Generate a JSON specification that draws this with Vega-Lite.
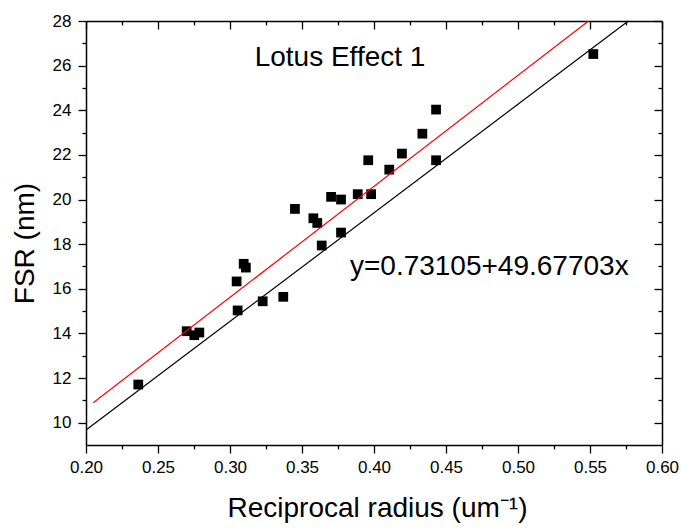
{
  "$schema": "https://vega.github.io/schema/vega-lite/v6.json",
  "width": 576,
  "height": 424,
  "autosize": {"type": "none"},
  "padding": {"left": 86, "top": 21, "right": 19, "bottom": 84},
  "config": {
    "view": {"stroke": null},
    "font": "Liberation Sans",
    "axis": {
      "grid": false,
      "domainColor": "black",
      "tickColor": "black",
      "labelColor": "black",
      "titleColor": "black",
      "domainWidth": 1.5,
      "tickWidth": 1.3,
      "labelFont": "Liberation Sans",
      "titleFont": "Liberation Sans",
      "titleFontWeight": "normal"
    }
  },
  "datasets": {
    "points": [
      {"r": 0.2363, "fsr": 11.71}, {"r": 0.2699, "fsr": 14.10}, {"r": 0.2752, "fsr": 13.92},
      {"r": 0.2787, "fsr": 14.04}, {"r": 0.3053, "fsr": 15.03}, {"r": 0.3046, "fsr": 16.33},
      {"r": 0.3095, "fsr": 17.12}, {"r": 0.3110, "fsr": 16.95}, {"r": 0.3227, "fsr": 15.44},
      {"r": 0.3370, "fsr": 15.64}, {"r": 0.3451, "fsr": 19.58}, {"r": 0.3579, "fsr": 19.16},
      {"r": 0.3606, "fsr": 18.95}, {"r": 0.3637, "fsr": 17.94}, {"r": 0.3702, "fsr": 20.12},
      {"r": 0.3771, "fsr": 20.00}, {"r": 0.3771, "fsr": 18.52}, {"r": 0.3887, "fsr": 20.24},
      {"r": 0.3980, "fsr": 20.24}, {"r": 0.3960, "fsr": 21.76}, {"r": 0.4106, "fsr": 21.34},
      {"r": 0.4194, "fsr": 22.06}, {"r": 0.4336, "fsr": 22.95}, {"r": 0.4431, "fsr": 24.03},
      {"r": 0.4431, "fsr": 21.76}, {"r": 0.5523, "fsr": 26.52}
    ],
    "redline": [{"r": 0.205, "fsr": 10.89}, {"r": 0.549, "fsr": 28.0}],
    "blackline": [{"r": 0.2, "fsr": 9.67}, {"r": 0.5766, "fsr": 28.0}],
    "title1": [{"r": 0.3764, "fsr": 25.97, "t": "Lotus Effect 1"}],
    "eq": [{"r": 0.3833, "fsr": 16.64, "t": "y=0.73105+49.67703x"}]
  },
  "layer": [
    {
      "data": {"name": "points"},
      "mark": {"type": "square", "size": 95, "color": "black", "opacity": 1},
      "encoding": {
        "x": {
          "field": "r", "type": "quantitative",
          "scale": {"domain": [0.2, 0.6], "nice": false, "zero": false},
          "axis": {
            "orient": "bottom",
            "values": [0.2, 0.25, 0.3, 0.35, 0.4, 0.45, 0.5, 0.55, 0.6],
            "format": ".2f", "labelFontSize": 17, "tickSize": 8, "labelPadding": 6,
            "labelFlush": false, "labelOverlap": false,
            "title": "Reciprocal radius (um⁻¹)", "titleFontSize": 28,
            "titleX": 291, "titleY": 71, "titleAlign": "center", "titleBaseline": "alphabetic"
          }
        },
        "y": {
          "field": "fsr", "type": "quantitative",
          "scale": {"domain": [9, 28], "nice": false, "zero": false},
          "axis": {
            "orient": "left",
            "values": [10, 12, 14, 16, 18, 20, 22, 24, 26, 28],
            "format": "d", "labelFontSize": 17, "tickSize": 8, "labelPadding": 7,
            "labelFlush": false, "labelOverlap": false,
            "title": "FSR (nm)", "titleFontSize": 28, "titleAngle": -90,
            "titleX": -52.5, "titleY": 222, "titleAlign": "center", "titleBaseline": "alphabetic"
          }
        }
      }
    },
    {
      "data": {"name": "redline"},
      "mark": {"type": "line", "color": "#ff0000", "strokeWidth": 1.2},
      "encoding": {
        "x": {
          "field": "r", "type": "quantitative",
          "scale": {"domain": [0.2, 0.6], "nice": false, "zero": false},
          "axis": {
            "orient": "bottom",
            "values": [0.225, 0.275, 0.325, 0.375, 0.425, 0.475, 0.525, 0.575],
            "labels": false, "domain": false, "tickSize": 4, "title": null
          }
        },
        "y": {
          "field": "fsr", "type": "quantitative",
          "scale": {"domain": [9, 28], "nice": false, "zero": false},
          "axis": {
            "orient": "left",
            "values": [11, 13, 15, 17, 19, 21, 23, 25, 27],
            "labels": false, "domain": false, "tickSize": 4, "title": null
          }
        }
      }
    },
    {
      "data": {"name": "blackline"},
      "mark": {"type": "line", "color": "black", "strokeWidth": 1.2},
      "encoding": {
        "x": {
          "field": "r", "type": "quantitative",
          "scale": {"domain": [0.2, 0.6], "nice": false, "zero": false},
          "axis": {
            "orient": "top",
            "values": [0.2, 0.25, 0.3, 0.35, 0.4, 0.45, 0.5, 0.55, 0.6],
            "labels": false, "tickSize": -8, "title": null
          }
        },
        "y": {
          "field": "fsr", "type": "quantitative",
          "scale": {"domain": [9, 28], "nice": false, "zero": false},
          "axis": {
            "orient": "right",
            "values": [10, 12, 14, 16, 18, 20, 22, 24, 26, 28],
            "labels": false, "tickSize": -8, "title": null
          }
        }
      }
    },
    {
      "data": {"name": "title1"},
      "mark": {"type": "text", "fontSize": 28, "align": "center", "baseline": "alphabetic", "color": "black", "font": "Liberation Sans"},
      "encoding": {
        "x": {
          "field": "r", "type": "quantitative",
          "scale": {"domain": [0.2, 0.6], "nice": false, "zero": false},
          "axis": {
            "orient": "top",
            "values": [0.225, 0.275, 0.325, 0.375, 0.425, 0.475, 0.525, 0.575],
            "labels": false, "domain": false, "tickSize": -4, "title": null
          }
        },
        "y": {
          "field": "fsr", "type": "quantitative",
          "scale": {"domain": [9, 28], "nice": false, "zero": false},
          "axis": {
            "orient": "right",
            "values": [11, 13, 15, 17, 19, 21, 23, 25, 27],
            "labels": false, "domain": false, "tickSize": -4, "title": null
          }
        },
        "text": {"field": "t"}
      }
    },
    {
      "data": {"name": "eq"},
      "mark": {"type": "text", "fontSize": 28, "align": "left", "baseline": "alphabetic", "color": "black", "font": "Liberation Sans"},
      "encoding": {
        "x": {
          "field": "r", "type": "quantitative",
          "scale": {"domain": [0.2, 0.6], "nice": false, "zero": false},
          "axis": null
        },
        "y": {
          "field": "fsr", "type": "quantitative",
          "scale": {"domain": [9, 28], "nice": false, "zero": false},
          "axis": null
        },
        "text": {"field": "t"}
      }
    }
  ],
  "resolve": {"axis": {"x": "independent", "y": "independent"}}
}
